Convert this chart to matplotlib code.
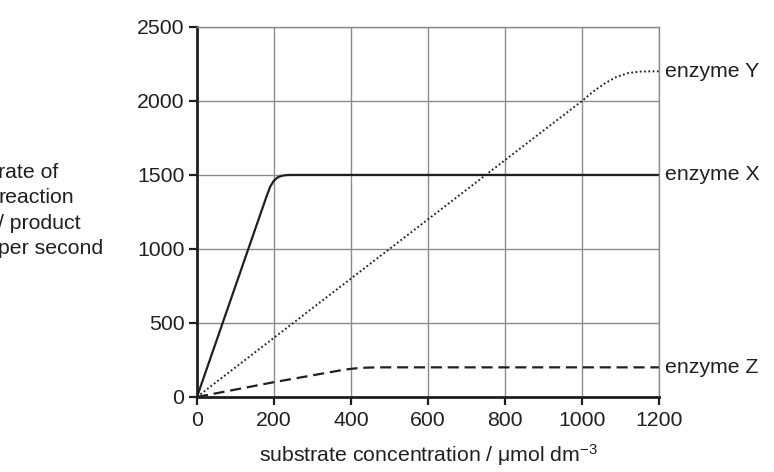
import matplotlib
matplotlib.use("Agg")
import matplotlib.pyplot as plt

plt.rcParams['font.family'] = ['Liberation Sans', 'DejaVu Sans']
plt.rcParams['mathtext.fontset'] = 'custom'
plt.rcParams['mathtext.rm'] = 'Liberation Sans'
plt.rcParams['mathtext.it'] = 'Liberation Sans'

# values
x_ticks = [0, 200, 400, 600, 800, 1000, 1200]
y_ticks = [0, 500, 1000, 1500, 2000, 2500]

enz_x_conc = [0, 180, 190, 200, 210, 220, 232, 245, 1200]
enz_x_rate = [0, 1350, 1420, 1462, 1484, 1494, 1499, 1500, 1500]

enz_y_conc = [0, 1000, 1030, 1060, 1090, 1120, 1150, 1180, 1200]
enz_y_rate = [0, 2000, 2065, 2120, 2163, 2188, 2198, 2200, 2200]

enz_z_conc = [0, 200, 380, 400, 420, 440, 470, 1200]
enz_z_rate = [0, 100, 183, 190, 195, 198, 200, 200]

labels = ['enzyme Y', 'enzyme X', 'enzyme Z']
label_vals = [2200, 1500, 200]

ink = '#231f20'
fs = 15.3

fig = plt.figure(figsize=(7.74, 4.72), dpi=100)
ax = fig.add_axes([0.2545, 0.159, 0.597, 0.784])

ax.set_xlim(0, 1200)
ax.set_ylim(0, 2500)
ax.set_xticks(x_ticks)
ax.set_yticks(y_ticks)
ax.grid(True, color='#8c8c8c', linewidth=1.0)
ax.set_axisbelow(True)

ax.plot(enz_x_conc, enz_x_rate, color=ink, lw=1.6, solid_capstyle='butt')
ax.plot(enz_y_conc, enz_y_rate, color=ink, lw=1.4, dashes=(0.9, 1.3))
ax.plot(enz_z_conc, enz_z_rate, color=ink, lw=1.6, dashes=(5, 2.6))

for lab, v in zip(labels, label_vals):
    ax.annotate(lab, xy=(1200, v), xytext=(4, 0), textcoords='offset points',
                va='center', ha='left', fontsize=fs, color=ink,
                annotation_clip=False)

for s in ['top', 'right']:
    ax.spines[s].set_color('#8c8c8c')
    ax.spines[s].set_linewidth(1.0)
for s in ['left', 'bottom']:
    ax.spines[s].set_color(ink)
    ax.spines[s].set_linewidth(2.0)

ax.tick_params(direction='out', length=6, width=1.6, color=ink,
               labelsize=fs, labelcolor=ink)
ax.tick_params(axis='x', pad=4)
ax.tick_params(axis='y', pad=3)

ax.set_xlabel(r'substrate concentration / $\mu$mol dm$^{-3}$',
              fontsize=fs, color=ink, labelpad=9)

fig.text(-0.002, 0.554, 'rate of\nreaction\n/ product\nper second',
         ha='left', va='center', fontsize=fs, color=ink, linespacing=1.43)

fig.savefig('out.png', dpi=100)
